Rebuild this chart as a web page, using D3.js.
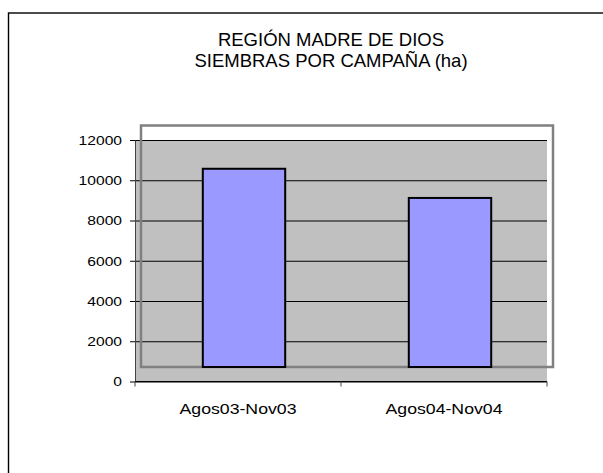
<!DOCTYPE html>
<html>
<head>
<meta charset="utf-8">
<script src="https://cdn.jsdelivr.net/npm/d3@7"></script>
<style>
  body { margin: 0; background: #fff; }
  text { font-family: "Liberation Sans", Arial, sans-serif; fill: #000; }
</style>
</head>
<body>
<div id="chart"></div>
<script>
var titleLines = ["REGIÓN MADRE DE DIOS", "SIEMBRAS POR CAMPAÑA (ha)"];
var campaigns = ["Agos03-Nov03", "Agos04-Nov04"];
var sown = [9850, 8400];
var yTicks = [0, 2000, 4000, 6000, 8000, 10000, 12000];

var plotLeft = 135, plotRight = 547, plotTop = 140, plotBottom = 381.5;
// the bars and the plot border are drawn offset from the axes
var shiftX = 6, shiftY = -14.5;

var svg = d3.select("#chart")
    .append("svg")
    .attr("width", 603)
    .attr("height", 473);

// outer chart frame
svg.append("rect")
    .attr("x", 8.5).attr("y", 13)
    .attr("width", 650).attr("height", 500)
    .attr("fill", "#fff")
    .attr("stroke", "#000")
    .attr("stroke-width", 1.4);

svg.append("g").selectAll("text")
    .data(titleLines)
    .enter().append("text")
    .attr("x", 331)
    .attr("y", (d, i) => 45.5 + i * 21)
    .attr("text-anchor", "middle")
    .attr("font-size", "18.5px")
    .text(d => d);

var xScale = d3.scaleBand()
    .domain(campaigns)
    .range([plotLeft, plotRight])
    .paddingInner(0.6)
    .paddingOuter(0.3);

var yScale = d3.scaleLinear()
    .domain([0, 12000])
    .range([plotBottom, plotTop]);

// plot border (white inside)
svg.append("rect")
    .attr("x", plotLeft + shiftX).attr("y", plotTop + shiftY)
    .attr("width", plotRight - plotLeft).attr("height", plotBottom - plotTop)
    .attr("fill", "#fff");

svg.append("rect")
    .attr("x", plotLeft).attr("y", plotTop)
    .attr("width", plotRight - plotLeft).attr("height", plotBottom - plotTop)
    .attr("fill", "#c0c0c0");

// gridlines
svg.append("g")
    .attr("transform", `translate(${plotLeft}, 0)`)
    .call(d3.axisLeft(yScale).tickValues(yTicks).tickSize(-(plotRight - plotLeft)).tickFormat(""))
    .call(g => g.select(".domain").remove())
    .call(g => g.selectAll("line").attr("stroke", "#000").attr("stroke-width", 1));

svg.append("rect")
    .attr("x", plotLeft + shiftX).attr("y", plotTop + shiftY)
    .attr("width", plotRight - plotLeft).attr("height", plotBottom - plotTop)
    .attr("fill", "none")
    .attr("stroke", "#808080")
    .attr("stroke-width", 2.5);

// bars
svg.append("g")
    .attr("transform", `translate(${shiftX}, ${shiftY})`)
    .selectAll("rect")
    .data(campaigns)
    .enter().append("rect")
    .attr("x", d => xScale(d))
    .attr("y", (d, i) => yScale(sown[i]))
    .attr("width", xScale.bandwidth())
    .attr("height", (d, i) => plotBottom - yScale(sown[i]))
    .attr("fill", "#9999ff")
    .attr("stroke", "#000")
    .attr("stroke-width", 2);

// y axis
var yAxis = svg.append("g")
    .attr("transform", `translate(${plotLeft}, 0)`)
    .call(d3.axisLeft(yScale).tickValues(yTicks).tickSize(5).tickSizeOuter(0).tickFormat(d3.format("d")));
yAxis.select(".domain").attr("stroke", "#444");
yAxis.selectAll("line").attr("stroke", "#000");
yAxis.selectAll("text")
    .attr("x", 0)
    .attr("dy", "0.35em")
    .attr("font-size", "12.5px")
    .attr("fill", "#000")
    .attr("transform", "translate(-13, 0) scale(1.25, 1)");

// x axis with ticks between categories
var xAxis = svg.append("g");
xAxis.append("line")
    .attr("x1", plotLeft).attr("x2", plotRight)
    .attr("y1", plotBottom).attr("y2", plotBottom)
    .attr("stroke", "#000");
xAxis.selectAll(".tick")
    .data(d3.range(campaigns.length + 1))
    .enter().append("line")
    .attr("class", "tick")
    .attr("x1", i => plotLeft + i * xScale.step())
    .attr("x2", i => plotLeft + i * xScale.step())
    .attr("y1", plotBottom).attr("y2", plotBottom + 5)
    .attr("stroke", "#444");
xAxis.selectAll("text")
    .data(campaigns)
    .enter().append("text")
    .attr("text-anchor", "middle")
    .attr("font-size", "15px")
    .attr("transform", d => `translate(${xScale(d) + xScale.bandwidth() / 2}, 413.5) scale(1.18, 1)`)
    .text(d => d);
</script>
</body>
</html>
